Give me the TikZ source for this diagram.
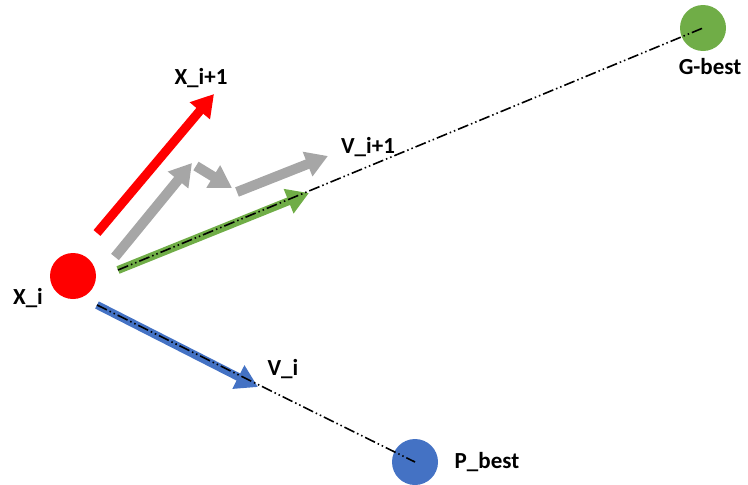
\documentclass[tikz,border=0pt]{standalone}
\usepackage{fontspec}
\setmainfont{Carlito}
\usetikzlibrary{arrows.meta}
\definecolor{xred}{RGB}{255,0,0}
\definecolor{ggreen}{RGB}{112,173,71}
\definecolor{pblue}{RGB}{68,114,196}
\definecolor{vgray}{RGB}{166,166,166}

\begin{document}
\begin{tikzpicture}[x=1pt, y=-1pt, font=\fontsize{23}{27}\selectfont\bfseries,
	dot/.style={circle, minimum size=46pt, inner sep=0pt},
	vec/.style={line width=#1, -{Triangle[width=25pt,length=22pt]}},
	dashdot/.style={black, line width=1.6pt, dash pattern=on 11pt off 3pt on 1.5pt off 3pt on 1.5pt off 3pt}]
	\useasboundingbox (0,0) rectangle (748,485);
	% particles
	\node[dot, fill=xred] (xi) at (73,276) {};
	\node[dot, fill=ggreen] (gbest) at (703,28) {};
	\node[dot, fill=pblue] (pbest) at (415,462) {};
	\node (xilab) at (28,298) {X\_i};
	\node (gbestlab) at (710,67) {G-best};
	\node (pbestlab) at (487,462) {P\_best};
	\node (xnextlab) at (201,78) {X\_i+1};
	\node (vnextlab) at (368,147) {V\_i+1};
	\node (vilab) at (283,369) {V\_i};
	% arrow ends
	\coordinate (rs) at (97,233);  \coordinate (re) at (214,94);
	\coordinate (g1s) at (115,257); \coordinate (g1e) at (192,163);
	\coordinate (g2s) at (196,166); \coordinate (g2e) at (232,188);
	\coordinate (g3s) at (237,192); \coordinate (g3e) at (328,156);
	\coordinate (gs) at (118,270); \coordinate (ge) at (309,193);
	\coordinate (bs) at (97,305);  \coordinate (be) at (258,387);
	% vectors
	\draw[vec=9pt, xred] (rs) -- (re);
	\draw[vec=10pt, vgray] (g1s) -- (g1e);
	\draw[vec=10pt, vgray] (g2s) -- (g2e);
	\draw[vec=10pt, vgray] (g3s) -- (g3e);
	\draw[vec=8pt, ggreen] (gs) -- (ge);
	\draw[vec=8pt, pblue] (bs) -- (be);
	\draw[dashdot] (gs) -- (gbest.center);
	\draw[dashdot] (bs) -- (pbest.center);
\end{tikzpicture}
\end{document}
